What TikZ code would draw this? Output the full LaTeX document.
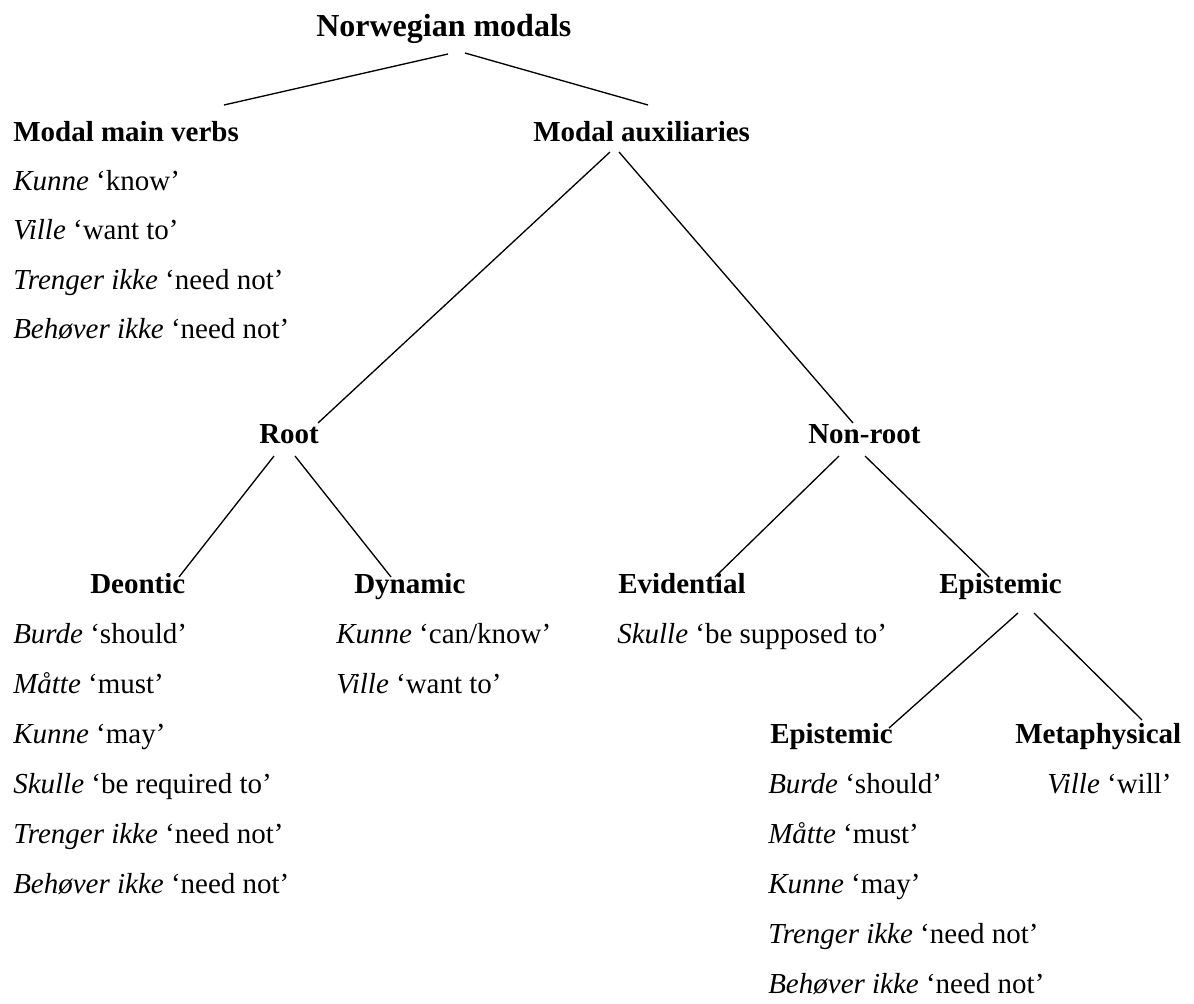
\documentclass[tikz,border=0pt]{standalone}
\usepackage{fontspec}
\setmainfont{Liberation Serif}
\begin{document}
\begin{tikzpicture}[x=0.75pt,y=-0.75pt,
  title/.style={anchor=base west,inner sep=0pt,font=\bfseries\fontsize{24}{28}\selectfont},
  hdr/.style={anchor=base west,inner sep=0pt,font=\bfseries\fontsize{21.75}{26}\selectfont},
  item/.style={anchor=base west,inner sep=0pt,font=\fontsize{21.75}{26}\selectfont},
  branch/.style={line width=1pt}]
\useasboundingbox (0,0) rectangle (1194,1003);

% headings
\node[title] (nm) at (316,36) {Norwegian modals};
\node[hdr] (mmv) at (13,141) {Modal main verbs};
\node[hdr] (maux) at (533,141) {Modal auxiliaries};
\node[hdr] (root) at (259,443) {Root};
\node[hdr] (nonroot) at (808,443) {Non-root};
\node[hdr] (deon) at (90,593) {Deontic};
\node[hdr] (dyn) at (354,593) {Dynamic};
\node[hdr] (evid) at (618,593) {Evidential};
\node[hdr] (epi) at (939,593) {Epistemic};
\node[hdr] (epib) at (770,743) {Epistemic};
\node[hdr] (meta) at (1015,743) {Metaphysical};

% modal main verbs
\node[item] (mmv1) at (13,190) {\textit{Kunne} ‘know’};
\node[item] (mmv2) at (13,239) {\textit{Ville} ‘want to’};
\node[item] (mmv3) at (13,289) {\textit{Trenger ikke} ‘need not’};
\node[item] (mmv4) at (13,338) {\textit{Behøver ikke} ‘need not’};

% deontic
\node[item] (de1) at (13,643) {\textit{Burde} ‘should’};
\node[item] (de2) at (13,693) {\textit{Måtte} ‘must’};
\node[item] (de3) at (13,743) {\textit{Kunne} ‘may’};
\node[item] (de4) at (13,793) {\textit{Skulle} ‘be required to’};
\node[item] (de5) at (13,843) {\textit{Trenger ikke} ‘need not’};
\node[item] (de6) at (13,893) {\textit{Behøver ikke} ‘need not’};

% dynamic
\node[item] (dy1) at (336,643) {\textit{Kunne} ‘can/know’};
\node[item] (dy2) at (336,693) {\textit{Ville} ‘want to’};

% evidential
\node[item] (ev1) at (617,643) {\textit{Skulle} ‘be supposed to’};

% epistemic
\node[item] (ep1) at (768,793) {\textit{Burde} ‘should’};
\node[item] (ep2) at (768,843) {\textit{Måtte} ‘must’};
\node[item] (ep3) at (768,893) {\textit{Kunne} ‘may’};
\node[item] (ep4) at (768,943) {\textit{Trenger ikke} ‘need not’};
\node[item] (ep5) at (768,993) {\textit{Behøver ikke} ‘need not’};

% metaphysical
\node[item] (me1) at (1047,793) {\textit{Ville} ‘will’};

% branch end points
\coordinate (nm-l) at (448,54);   \coordinate (mmv-t) at (224,105);
\coordinate (nm-r) at (465,53);   \coordinate (maux-t) at (648,105);
\coordinate (maux-l) at (610,152); \coordinate (root-t) at (318,423);
\coordinate (maux-r) at (619,152); \coordinate (nonroot-t) at (853,423);
\coordinate (root-l) at (274,456); \coordinate (deon-t) at (179,577);
\coordinate (root-r) at (295,456); \coordinate (dyn-t) at (391,577);
\coordinate (nonroot-l) at (839,456); \coordinate (evid-t) at (715,577);
\coordinate (nonroot-r) at (865,456); \coordinate (epi-t) at (989,577);
\coordinate (epi-l) at (1018,613); \coordinate (epib-t) at (889,728);
\coordinate (epi-r) at (1034,613); \coordinate (meta-t) at (1142,720);

% branches
\draw[branch] (nm-l) -- (mmv-t);
\draw[branch] (nm-r) -- (maux-t);
\draw[branch] (maux-l) -- (root-t);
\draw[branch] (maux-r) -- (nonroot-t);
\draw[branch] (root-l) -- (deon-t);
\draw[branch] (root-r) -- (dyn-t);
\draw[branch] (nonroot-l) -- (evid-t);
\draw[branch] (nonroot-r) -- (epi-t);
\draw[branch] (epi-l) -- (epib-t);
\draw[branch] (epi-r) -- (meta-t);
\end{tikzpicture}
\end{document}
